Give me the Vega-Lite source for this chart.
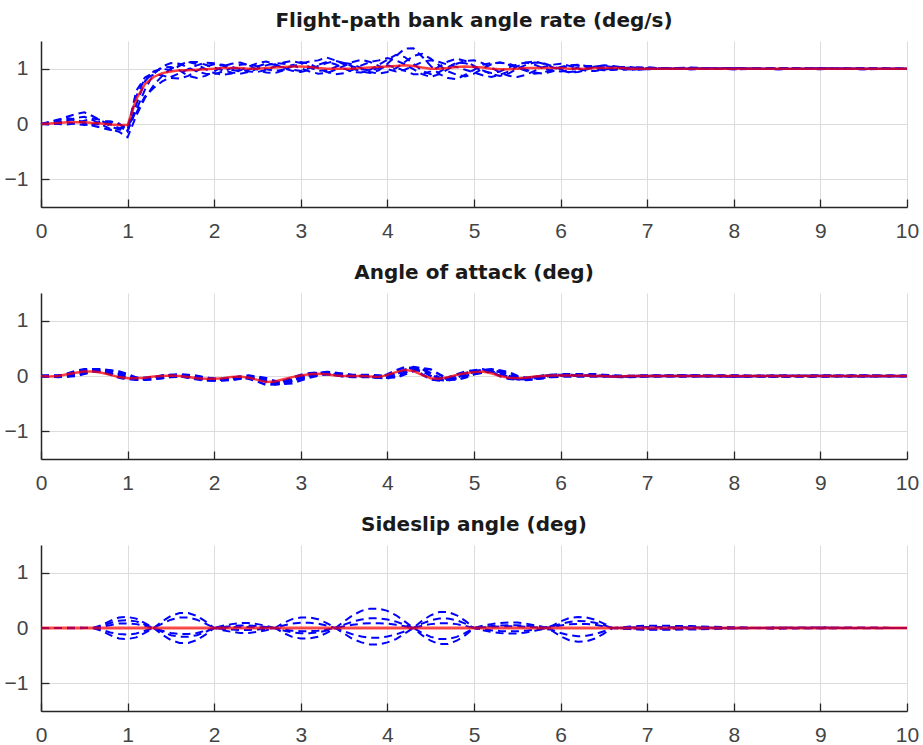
{
  "$schema": "https://vega.github.io/schema/vega-lite/v6.json",
  "background": "white",
  "padding": {"left": 4, "top": 11, "right": 4, "bottom": 4},
  "bounds": "flush",
  "spacing": 86,
  "config": {
    "view": {"stroke": null},
    "axis": {
      "domainColor": "#262626", "domainWidth": 1.5,
      "tickColor": "#262626", "tickWidth": 1.3, "tickSize": -8,
      "gridColor": "#dcdcdc", "gridWidth": 1,
      "labelFont": "Liberation Sans", "labelFontSize": 21, "labelColor": "#444444",
      "labelPadding": 21, "labelFlush": false
    },
    "title": {"font": "DejaVu Sans", "fontSize": 20, "fontWeight": "bold", "color": "#1a1a1a", "anchor": "middle", "offset": 10, "baseline": "alphabetic"}
  },
  "datasets": {
    "p1": [
      {"t":0,"r":0,"a":0,"b":0,"c":0,"d":0,"e":0,"f":0},
      {"t":0.1,"r":0.01,"a":0.03,"b":-0.01,"c":0.02,"d":0,"e":0.04,"f":0},
      {"t":0.2,"r":0.02,"a":0.07,"b":0.01,"c":0,"d":0.04,"e":0.08,"f":0.03},
      {"t":0.3,"r":0.03,"a":0.13,"b":0.06,"c":-0.01,"d":0.08,"e":0.11,"f":0.03},
      {"t":0.4,"r":0.03,"a":0.18,"b":0.11,"c":0.01,"d":0.07,"e":0.08,"f":0},
      {"t":0.5,"r":0.03,"a":0.21,"b":0.13,"c":0.06,"d":0.01,"e":0.03,"f":-0.02},
      {"t":0.6,"r":0.02,"a":0.14,"b":0.07,"c":0.1,"d":-0.03,"e":-0.01,"f":0},
      {"t":0.7,"r":0.01,"a":0.06,"b":-0.01,"c":0.07,"d":-0.07,"e":0,"f":0.05},
      {"t":0.8,"r":-0.01,"a":-0.04,"b":-0.09,"c":-0.01,"d":-0.11,"e":0.02,"f":0.05},
      {"t":0.9,"r":-0.02,"a":-0.1,"b":-0.14,"c":-0.07,"d":-0.08,"e":0,"f":0.01},
      {"t":1.0,"r":-0.02,"a":-0.12,"b":-0.24,"c":-0.1,"d":-0.04,"e":-0.07,"f":-0.14},
      {"t":1.1,"r":0.45,"a":0.25,"b":0.15,"c":0.6,"d":0.2,"e":0.5,"f":0.35},
      {"t":1.2,"r":0.72,"a":0.62,"b":0.47,"c":0.84,"d":0.5,"e":0.82,"f":0.77},
      {"t":1.3,"r":0.85,"a":0.9,"b":0.7,"c":0.93,"d":0.65,"e":0.89,"f":0.95},
      {"t":1.4,"r":0.92,"a":1.04,"b":0.87,"c":1.02,"d":0.77,"e":0.88,"f":1.0},
      {"t":1.5,"r":0.95,"a":1.1,"b":1.0,"c":1.03,"d":0.85,"e":0.83,"f":0.97},
      {"t":1.6,"r":0.97,"a":1.09,"b":1.07,"c":0.97,"d":0.92,"e":0.82,"f":1.05},
      {"t":1.7,"r":0.97,"a":1.02,"b":1.12,"c":0.87,"d":0.99,"e":0.87,"f":1.12},
      {"t":1.8,"r":0.98,"a":0.95,"b":1.12,"c":0.83,"d":1.06,"e":0.96,"f":1.08},
      {"t":1.9,"r":0.99,"a":0.91,"b":1.07,"c":0.87,"d":1.11,"e":1.04,"f":0.99},
      {"t":2.0,"r":1.0,"a":0.9,"b":1.02,"c":0.95,"d":1.1,"e":1.08,"f":0.92},
      {"t":2.1,"r":1.01,"a":0.95,"b":0.97,"c":1.04,"d":1.05,"e":1.07,"f":0.89},
      {"t":2.2,"r":1.01,"a":1.01,"b":0.93,"c":1.09,"d":0.98,"e":1.03,"f":0.91},
      {"t":2.3,"r":1.01,"a":1.07,"b":0.91,"c":1.11,"d":0.95,"e":0.99,"f":0.97},
      {"t":2.4,"r":1.0,"a":1.08,"b":0.94,"c":1.06,"d":0.98,"e":0.95,"f":1.04},
      {"t":2.5,"r":1.0,"a":1.04,"b":1.0,"c":0.98,"d":1.04,"e":0.94,"f":1.1},
      {"t":2.6,"r":1.01,"a":0.99,"b":1.06,"c":0.93,"d":1.09,"e":0.98,"f":1.13},
      {"t":2.7,"r":1.02,"a":0.96,"b":1.1,"c":0.92,"d":1.07,"e":1.04,"f":1.08},
      {"t":2.8,"r":1.03,"a":0.98,"b":1.09,"c":0.97,"d":1.02,"e":1.11,"f":1.01},
      {"t":2.9,"r":1.04,"a":1.04,"b":1.06,"c":1.06,"d":0.98,"e":1.14,"f":0.96},
      {"t":3.0,"r":1.04,"a":1.09,"b":1.01,"c":1.12,"d":0.96,"e":1.1,"f":0.94},
      {"t":3.1,"r":1.03,"a":1.13,"b":0.95,"c":1.09,"d":1.01,"e":1.03,"f":0.98},
      {"t":3.2,"r":1.01,"a":1.15,"b":0.91,"c":1.01,"d":1.07,"e":0.96,"f":1.05},
      {"t":3.3,"r":1.0,"a":1.2,"b":0.92,"c":0.94,"d":1.12,"e":0.97,"f":1.1},
      {"t":3.4,"r":1.0,"a":1.15,"b":0.98,"c":0.9,"d":1.08,"e":1.03,"f":1.14},
      {"t":3.5,"r":1.0,"a":1.08,"b":1.05,"c":0.92,"d":1.0,"e":1.1,"f":1.1},
      {"t":3.6,"r":1.0,"a":1.0,"b":1.12,"c":0.98,"d":0.94,"e":1.08,"f":1.04},
      {"t":3.7,"r":1.01,"a":0.95,"b":1.16,"c":1.06,"d":0.93,"e":1.01,"f":0.99},
      {"t":3.8,"r":1.02,"a":0.92,"b":1.12,"c":1.12,"d":0.98,"e":0.94,"f":0.97},
      {"t":3.9,"r":1.03,"a":0.97,"b":1.05,"c":1.15,"d":1.07,"e":0.91,"f":1.01},
      {"t":4.0,"r":1.04,"a":1.09,"b":0.99,"c":1.19,"d":1.16,"e":0.94,"f":1.06},
      {"t":4.1,"r":1.05,"a":1.23,"b":0.95,"c":1.15,"d":1.25,"e":1.01,"f":1.02},
      {"t":4.2,"r":1.06,"a":1.36,"b":0.98,"c":1.08,"d":1.21,"e":1.12,"f":0.96},
      {"t":4.3,"r":1.05,"a":1.37,"b":1.05,"c":0.99,"d":1.09,"e":1.23,"f":0.9},
      {"t":4.4,"r":1.02,"a":1.22,"b":1.12,"c":0.9,"d":0.96,"e":1.27,"f":0.9},
      {"t":4.5,"r":1.0,"a":1.05,"b":1.15,"c":0.85,"d":0.9,"e":1.18,"f":0.95},
      {"t":4.6,"r":1.0,"a":0.9,"b":1.12,"c":0.9,"d":0.94,"e":1.06,"f":1.04},
      {"t":4.7,"r":1.01,"a":0.83,"b":1.07,"c":0.99,"d":1.03,"e":0.95,"f":1.13},
      {"t":4.8,"r":1.03,"a":0.81,"b":1.03,"c":1.09,"d":1.11,"e":0.89,"f":1.18},
      {"t":4.9,"r":1.04,"a":0.89,"b":0.98,"c":1.14,"d":1.1,"e":0.86,"f":1.14},
      {"t":5.0,"r":1.03,"a":0.98,"b":0.93,"c":1.15,"d":1.03,"e":0.91,"f":1.05},
      {"t":5.1,"r":1.02,"a":1.07,"b":0.88,"c":1.1,"d":0.96,"e":1.0,"f":0.97},
      {"t":5.2,"r":1.0,"a":1.1,"b":0.85,"c":1.02,"d":0.92,"e":1.08,"f":0.9},
      {"t":5.3,"r":0.99,"a":1.11,"b":0.89,"c":0.93,"d":0.95,"e":1.11,"f":0.87},
      {"t":5.4,"r":0.99,"a":1.07,"b":0.95,"c":0.87,"d":1.02,"e":1.09,"f":0.91},
      {"t":5.5,"r":1.0,"a":1.02,"b":1.04,"c":0.85,"d":1.08,"e":1.04,"f":1.0},
      {"t":5.6,"r":1.01,"a":0.96,"b":1.11,"c":0.89,"d":1.11,"e":0.98,"f":1.07},
      {"t":5.7,"r":1.01,"a":0.91,"b":1.13,"c":0.96,"d":1.07,"e":0.93,"f":1.11},
      {"t":5.8,"r":1.01,"a":0.93,"b":1.09,"c":1.03,"d":1.01,"e":0.91,"f":1.1},
      {"t":5.9,"r":1.01,"a":0.98,"b":1.03,"c":1.07,"d":0.96,"e":0.95,"f":1.05},
      {"t":6.0,"r":1.01,"a":1.03,"b":0.97,"c":1.09,"d":0.95,"e":1.01,"f":0.99},
      {"t":6.1,"r":1.0,"a":1.06,"b":0.93,"c":1.05,"d":0.97,"e":1.05,"f":0.94},
      {"t":6.2,"r":1.0,"a":1.07,"b":0.94,"c":1.0,"d":1.02,"e":1.06,"f":0.95},
      {"t":6.3,"r":1.0,"a":1.05,"b":0.98,"c":0.96,"d":1.05,"e":1.03,"f":0.99},
      {"t":6.4,"r":1.01,"a":1.03,"b":1.04,"c":0.96,"d":1.05,"e":0.99,"f":1.04},
      {"t":6.5,"r":1.01,"a":0.99,"b":1.06,"c":0.98,"d":1.02,"e":0.97,"f":1.05},
      {"t":6.6,"r":1.01,"a":0.98,"b":1.05,"c":1.01,"d":0.99,"e":0.98,"f":1.03},
      {"t":6.7,"r":1.01,"a":0.99,"b":1.03,"c":1.03,"d":0.98,"e":1.01,"f":1.0},
      {"t":6.8,"r":1.0,"a":1.0,"b":0.99,"c":1.03,"d":0.99,"e":1.02,"f":0.98},
      {"t":6.9,"r":1.0,"a":1.02,"b":0.98,"c":1.01,"d":1.01,"e":1.02,"f":0.99},
      {"t":7.0,"r":1.0,"a":1.02,"b":0.99,"c":0.99,"d":1.02,"e":1.0,"f":1.01},
      {"t":7.5,"r":1.0,"a":0.99,"b":1.02,"c":1.0,"d":0.99,"e":1.01,"f":1.0},
      {"t":8.0,"r":1.0,"a":1.01,"b":0.99,"c":1.01,"d":1.0,"e":0.99,"f":1.01},
      {"t":8.5,"r":1.0,"a":1.0,"b":1.01,"c":0.99,"d":1.01,"e":1.0,"f":0.99},
      {"t":9.0,"r":1.0,"a":0.99,"b":1.0,"c":1.01,"d":1.0,"e":1.01,"f":1.0},
      {"t":9.5,"r":1.0,"a":1.01,"b":0.99,"c":1.0,"d":1.01,"e":0.99,"f":1.0},
      {"t":10,"r":1.0,"a":1.0,"b":1.0,"c":1.0,"d":1.0,"e":1.0,"f":1.0}
    ],
    "p2": [
      {"t":0,"r":0,"a":0,"b":0,"c":0,"d":0,"e":0},
      {"t":0.1,"r":-0.01,"a":0,"b":0,"c":-0.01,"d":-0.01,"e":0.01},
      {"t":0.2,"r":0,"a":-0.01,"b":0,"c":0,"d":-0.02,"e":0.01},
      {"t":0.3,"r":0.03,"a":0,"b":-0.01,"c":0.04,"d":-0.01,"e":0.02},
      {"t":0.4,"r":0.06,"a":0.04,"b":0,"c":0.09,"d":0.02,"e":0.06},
      {"t":0.5,"r":0.08,"a":0.08,"b":0.04,"c":0.12,"d":0.05,"e":0.1},
      {"t":0.6,"r":0.08,"a":0.11,"b":0.08,"c":0.12,"d":0.08,"e":0.12},
      {"t":0.7,"r":0.06,"a":0.11,"b":0.1,"c":0.09,"d":0.08,"e":0.12},
      {"t":0.8,"r":0.02,"a":0.08,"b":0.1,"c":0.03,"d":0.05,"e":0.1},
      {"t":0.9,"r":-0.02,"a":0.03,"b":0.08,"c":-0.03,"d":0,"e":0.05},
      {"t":1.0,"r":-0.04,"a":-0.03,"b":0.03,"c":-0.06,"d":-0.04,"e":0},
      {"t":1.1,"r":-0.04,"a":-0.06,"b":-0.03,"c":-0.06,"d":-0.07,"e":-0.03},
      {"t":1.2,"r":-0.03,"a":-0.06,"b":-0.05,"c":-0.05,"d":-0.07,"e":-0.03},
      {"t":1.3,"r":-0.01,"a":-0.04,"b":-0.05,"c":-0.02,"d":-0.06,"e":-0.02},
      {"t":1.4,"r":0,"a":-0.01,"b":-0.04,"c":0,"d":-0.03,"e":0.01},
      {"t":1.5,"r":0.01,"a":0,"b":-0.01,"c":0.02,"d":-0.02,"e":0.02},
      {"t":1.6,"r":0,"a":0.01,"b":0,"c":0,"d":-0.01,"e":0.03},
      {"t":1.7,"r":-0.02,"a":0,"b":0.01,"c":-0.03,"d":-0.02,"e":0.02},
      {"t":1.8,"r":-0.04,"a":-0.03,"b":0,"c":-0.06,"d":-0.04,"e":0},
      {"t":1.9,"r":-0.05,"a":-0.06,"b":-0.03,"c":-0.08,"d":-0.07,"e":-0.03},
      {"t":2.0,"r":-0.05,"a":-0.07,"b":-0.05,"c":-0.08,"d":-0.08,"e":-0.05},
      {"t":2.1,"r":-0.04,"a":-0.07,"b":-0.07,"c":-0.06,"d":-0.08,"e":-0.05},
      {"t":2.2,"r":-0.02,"a":-0.06,"b":-0.07,"c":-0.03,"d":-0.07,"e":-0.03},
      {"t":2.3,"r":-0.01,"a":-0.03,"b":-0.05,"c":-0.02,"d":-0.04,"e":-0.01},
      {"t":2.4,"r":-0.03,"a":-0.01,"b":-0.03,"c":-0.05,"d":-0.03,"e":0.01},
      {"t":2.5,"r":-0.07,"a":-0.04,"b":-0.01,"c":-0.1,"d":-0.06,"e":-0.02},
      {"t":2.6,"r":-0.11,"a":-0.1,"b":-0.04,"c":-0.16,"d":-0.1,"e":-0.07},
      {"t":2.7,"r":-0.1,"a":-0.15,"b":-0.09,"c":-0.15,"d":-0.15,"e":-0.12},
      {"t":2.8,"r":-0.06,"a":-0.14,"b":-0.14,"c":-0.09,"d":-0.14,"e":-0.11},
      {"t":2.9,"r":-0.02,"a":-0.08,"b":-0.13,"c":-0.03,"d":-0.09,"e":-0.06},
      {"t":3.0,"r":0.01,"a":-0.03,"b":-0.08,"c":0.02,"d":-0.04,"e":-0.01},
      {"t":3.1,"r":0.03,"a":0.01,"b":-0.03,"c":0.05,"d":-0.01,"e":0.03},
      {"t":3.2,"r":0.04,"a":0.04,"b":0.01,"c":0.06,"d":0.02,"e":0.06},
      {"t":3.3,"r":0.03,"a":0.06,"b":0.04,"c":0.05,"d":0.03,"e":0.07},
      {"t":3.4,"r":0.01,"a":0.04,"b":0.05,"c":0.02,"d":0.02,"e":0.06},
      {"t":3.5,"r":0,"a":0.01,"b":0.04,"c":0,"d":-0.01,"e":0.03},
      {"t":3.6,"r":0,"a":0,"b":0.01,"c":0,"d":-0.02,"e":0.02},
      {"t":3.7,"r":0,"a":0,"b":0,"c":0,"d":-0.02,"e":0.02},
      {"t":3.8,"r":-0.01,"a":0,"b":0,"c":-0.02,"d":-0.02,"e":0.02},
      {"t":3.9,"r":-0.02,"a":-0.01,"b":0,"c":-0.03,"d":-0.03,"e":0.01},
      {"t":4.0,"r":0.02,"a":-0.03,"b":-0.01,"c":0.03,"d":-0.04,"e":0},
      {"t":4.1,"r":0.07,"a":0.03,"b":-0.03,"c":0.1,"d":0,"e":0.05},
      {"t":4.2,"r":0.11,"a":0.1,"b":0.03,"c":0.16,"d":0.06,"e":0.11},
      {"t":4.3,"r":0.09,"a":0.15,"b":0.09,"c":0.14,"d":0.11,"e":0.16},
      {"t":4.4,"r":0.02,"a":0.13,"b":0.14,"c":0.03,"d":0.09,"e":0.14},
      {"t":4.5,"r":-0.04,"a":0.03,"b":0.12,"c":-0.06,"d":0,"e":0.05},
      {"t":4.6,"r":-0.05,"a":-0.06,"b":0.03,"c":-0.08,"d":-0.07,"e":-0.03},
      {"t":4.7,"r":-0.02,"a":-0.07,"b":-0.05,"c":-0.03,"d":-0.08,"e":-0.04},
      {"t":4.8,"r":0.02,"a":-0.03,"b":-0.07,"c":0.03,"d":-0.04,"e":0},
      {"t":4.9,"r":0.05,"a":0.03,"b":-0.03,"c":0.08,"d":0,"e":0.05},
      {"t":5.0,"r":0.07,"a":0.07,"b":0.03,"c":0.1,"d":0.04,"e":0.09},
      {"t":5.1,"r":0.08,"a":0.1,"b":0.07,"c":0.12,"d":0.06,"e":0.11},
      {"t":5.2,"r":0.05,"a":0.11,"b":0.09,"c":0.08,"d":0.08,"e":0.12},
      {"t":5.3,"r":0,"a":0.07,"b":0.1,"c":0,"d":0.04,"e":0.09},
      {"t":5.4,"r":-0.03,"a":0,"b":0.07,"c":-0.05,"d":-0.02,"e":0.02},
      {"t":5.5,"r":-0.04,"a":-0.04,"b":0,"c":-0.06,"d":-0.06,"e":-0.02},
      {"t":5.6,"r":-0.03,"a":-0.06,"b":-0.04,"c":-0.05,"d":-0.07,"e":-0.03},
      {"t":5.7,"r":-0.01,"a":-0.04,"b":-0.05,"c":-0.02,"d":-0.06,"e":-0.02},
      {"t":5.8,"r":0,"a":-0.01,"b":-0.04,"c":0,"d":-0.03,"e":0.01},
      {"t":5.9,"r":0.01,"a":0,"b":-0.01,"c":0.02,"d":-0.02,"e":0.02},
      {"t":6.0,"r":0.01,"a":0.01,"b":0,"c":0.02,"d":-0.01,"e":0.03},
      {"t":6.1,"r":0.01,"a":0.01,"b":0.01,"c":0.02,"d":-0.01,"e":0.03},
      {"t":6.2,"r":0.01,"a":0.01,"b":0.01,"c":0.01,"d":-0.01,"e":0.03},
      {"t":6.3,"r":0.01,"a":0.01,"b":0.01,"c":0.01,"d":-0.01,"e":0.03},
      {"t":6.4,"r":0,"a":0.01,"b":0.01,"c":0,"d":-0.01,"e":0.03},
      {"t":6.5,"r":0,"a":0,"b":0.01,"c":0,"d":-0.01,"e":0.02},
      {"t":6.6,"r":-0.01,"a":0,"b":0,"c":-0.01,"d":-0.01,"e":0.01},
      {"t":6.7,"r":-0.01,"a":-0.01,"b":0,"c":-0.01,"d":-0.02,"e":0},
      {"t":6.8,"r":0,"a":-0.01,"b":-0.01,"c":0,"d":-0.02,"e":0},
      {"t":6.9,"r":0,"a":0,"b":-0.01,"c":0,"d":-0.01,"e":0.01},
      {"t":7.0,"r":0,"a":0,"b":0,"c":0,"d":-0.01,"e":0.01},
      {"t":7.5,"r":0,"a":0.01,"b":-0.01,"c":0,"d":0,"e":0.01},
      {"t":8.0,"r":0,"a":0,"b":0.01,"c":-0.01,"d":-0.01,"e":0},
      {"t":8.5,"r":0,"a":-0.01,"b":0,"c":0.01,"d":0,"e":-0.01},
      {"t":9.0,"r":0,"a":0,"b":-0.01,"c":0,"d":0.01,"e":0},
      {"t":9.5,"r":0,"a":0.01,"b":0,"c":-0.01,"d":0,"e":0},
      {"t":10,"r":0,"a":0,"b":0,"c":0,"d":0,"e":0}
    ],
    "p3": [
      {"t":0,"r":0,"a":0,"b":0,"c":0,"d":0,"e":0},
      {"t":0.1,"r":0,"a":0,"b":0,"c":0,"d":0,"e":0},
      {"t":0.2,"r":0,"a":0,"b":0,"c":0,"d":0,"e":0},
      {"t":0.3,"r":0,"a":0.005,"b":0,"c":0,"d":-0.005,"e":0},
      {"t":0.4,"r":0,"a":0.005,"b":-0.005,"c":0,"d":0,"e":0},
      {"t":0.5,"r":0,"a":0,"b":0,"c":0.005,"d":0,"e":0},
      {"t":0.6,"r":0,"a":0,"b":0,"c":0,"d":0,"e":0},
      {"t":0.7,"r":0,"a":0.05,"b":-0.05,"c":0.035,"d":-0.03,"e":0.02},
      {"t":0.8,"r":0,"a":0.13,"b":-0.13,"c":0.09,"d":-0.08,"e":0.05},
      {"t":0.9,"r":0,"a":0.19,"b":-0.19,"c":0.13,"d":-0.11,"e":0.08},
      {"t":1.0,"r":0,"a":0.2,"b":-0.2,"c":0.14,"d":-0.12,"e":0.08},
      {"t":1.1,"r":0,"a":0.17,"b":-0.17,"c":0.12,"d":-0.1,"e":0.07},
      {"t":1.2,"r":0,"a":0.09,"b":-0.09,"c":0.06,"d":-0.05,"e":0.04},
      {"t":1.3,"r":0,"a":0,"b":0,"c":0,"d":0,"e":0},
      {"t":1.4,"r":0,"a":-0.12,"b":0.12,"c":0.08,"d":-0.07,"e":-0.05},
      {"t":1.5,"r":0,"a":-0.22,"b":0.22,"c":0.15,"d":-0.13,"e":-0.09},
      {"t":1.6,"r":0,"a":-0.27,"b":0.27,"c":0.19,"d":-0.16,"e":-0.11},
      {"t":1.7,"r":0,"a":-0.27,"b":0.27,"c":0.19,"d":-0.16,"e":-0.11},
      {"t":1.8,"r":0,"a":-0.22,"b":0.22,"c":0.15,"d":-0.13,"e":-0.09},
      {"t":1.9,"r":0,"a":-0.12,"b":0.12,"c":0.08,"d":-0.07,"e":-0.05},
      {"t":2.0,"r":0,"a":0,"b":0,"c":0,"d":0,"e":0},
      {"t":2.1,"r":0,"a":0.02,"b":-0.04,"c":0.04,"d":-0.016,"e":0.008},
      {"t":2.2,"r":0,"a":0.035,"b":-0.07,"c":0.07,"d":-0.028,"e":0.014},
      {"t":2.3,"r":0,"a":0.045,"b":-0.09,"c":0.09,"d":-0.036,"e":0.018},
      {"t":2.4,"r":0,"a":0.045,"b":-0.09,"c":0.09,"d":-0.036,"e":0.018},
      {"t":2.5,"r":0,"a":0.035,"b":-0.07,"c":0.07,"d":-0.028,"e":0.014},
      {"t":2.6,"r":0,"a":0.02,"b":-0.04,"c":0.04,"d":-0.016,"e":0.008},
      {"t":2.7,"r":0,"a":0,"b":0,"c":0,"d":0,"e":0},
      {"t":2.8,"r":0,"a":0.09,"b":-0.09,"c":0.045,"d":-0.045,"e":-0.027},
      {"t":2.9,"r":0,"a":0.16,"b":-0.16,"c":0.08,"d":-0.08,"e":-0.048},
      {"t":3.0,"r":0,"a":0.19,"b":-0.19,"c":0.095,"d":-0.095,"e":-0.057},
      {"t":3.1,"r":0,"a":0.19,"b":-0.19,"c":0.095,"d":-0.095,"e":-0.057},
      {"t":3.2,"r":0,"a":0.16,"b":-0.16,"c":0.08,"d":-0.08,"e":-0.048},
      {"t":3.3,"r":0,"a":0.09,"b":-0.09,"c":0.045,"d":-0.045,"e":-0.027},
      {"t":3.4,"r":0,"a":0,"b":0,"c":0,"d":0,"e":0},
      {"t":3.5,"r":0,"a":0.12,"b":-0.1,"c":0.06,"d":-0.06,"e":0.03},
      {"t":3.6,"r":0,"a":0.23,"b":-0.2,"c":0.115,"d":-0.115,"e":0.058},
      {"t":3.7,"r":0,"a":0.31,"b":-0.26,"c":0.155,"d":-0.155,"e":0.078},
      {"t":3.8,"r":0,"a":0.35,"b":-0.3,"c":0.175,"d":-0.175,"e":0.088},
      {"t":3.9,"r":0,"a":0.35,"b":-0.3,"c":0.175,"d":-0.175,"e":0.088},
      {"t":4.0,"r":0,"a":0.31,"b":-0.26,"c":0.155,"d":-0.155,"e":0.078},
      {"t":4.1,"r":0,"a":0.23,"b":-0.2,"c":0.115,"d":-0.115,"e":0.058},
      {"t":4.2,"r":0,"a":0.12,"b":-0.1,"c":0.06,"d":-0.06,"e":0.03},
      {"t":4.3,"r":0,"a":0,"b":0,"c":0,"d":0,"e":0},
      {"t":4.4,"r":0,"a":-0.09,"b":0.13,"c":-0.13,"d":0.08,"e":0.04},
      {"t":4.5,"r":0,"a":-0.16,"b":0.23,"c":-0.23,"d":0.14,"e":0.07},
      {"t":4.6,"r":0,"a":-0.2,"b":0.29,"c":-0.29,"d":0.17,"e":0.087},
      {"t":4.7,"r":0,"a":-0.2,"b":0.29,"c":-0.29,"d":0.17,"e":0.087},
      {"t":4.8,"r":0,"a":-0.16,"b":0.23,"c":-0.23,"d":0.14,"e":0.07},
      {"t":4.9,"r":0,"a":-0.09,"b":0.13,"c":-0.13,"d":0.08,"e":0.04},
      {"t":5.0,"r":0,"a":0,"b":0,"c":0,"d":0,"e":0},
      {"t":5.1,"r":0,"a":0.04,"b":-0.024,"c":0.02,"d":-0.04,"e":0.012},
      {"t":5.2,"r":0,"a":0.07,"b":-0.042,"c":0.035,"d":-0.07,"e":0.021},
      {"t":5.3,"r":0,"a":0.09,"b":-0.054,"c":0.045,"d":-0.09,"e":0.027},
      {"t":5.4,"r":0,"a":0.1,"b":-0.06,"c":0.05,"d":-0.1,"e":0.03},
      {"t":5.5,"r":0,"a":0.1,"b":-0.06,"c":0.05,"d":-0.1,"e":0.03},
      {"t":5.6,"r":0,"a":0.08,"b":-0.048,"c":0.04,"d":-0.08,"e":0.024},
      {"t":5.7,"r":0,"a":0.05,"b":-0.03,"c":0.025,"d":-0.05,"e":0.015},
      {"t":5.8,"r":0,"a":0.02,"b":-0.012,"c":0.01,"d":-0.02,"e":0.006},
      {"t":5.9,"r":0,"a":-0.05,"b":0.04,"c":0.025,"d":-0.03,"e":0.015},
      {"t":6.0,"r":0,"a":-0.15,"b":0.12,"c":0.075,"d":-0.09,"e":0.045},
      {"t":6.1,"r":0,"a":-0.22,"b":0.18,"c":0.11,"d":-0.13,"e":0.066},
      {"t":6.2,"r":0,"a":-0.25,"b":0.2,"c":0.125,"d":-0.15,"e":0.075},
      {"t":6.3,"r":0,"a":-0.24,"b":0.19,"c":0.12,"d":-0.14,"e":0.072},
      {"t":6.4,"r":0,"a":-0.19,"b":0.15,"c":0.095,"d":-0.11,"e":0.057},
      {"t":6.5,"r":0,"a":-0.1,"b":0.08,"c":0.05,"d":-0.06,"e":0.03},
      {"t":6.6,"r":0,"a":0,"b":0,"c":0,"d":0,"e":0},
      {"t":6.7,"r":0,"a":0.013,"b":-0.01,"c":0.005,"d":-0.007,"e":-0.004},
      {"t":6.8,"r":0,"a":0.025,"b":-0.02,"c":0.01,"d":-0.013,"e":-0.008},
      {"t":6.9,"r":0,"a":0.035,"b":-0.028,"c":0.014,"d":-0.018,"e":-0.01},
      {"t":7.0,"r":0,"a":0.043,"b":-0.034,"c":0.017,"d":-0.022,"e":-0.013},
      {"t":7.5,"r":0,"a":0.035,"b":-0.028,"c":0.014,"d":-0.018,"e":-0.01},
      {"t":8.0,"r":0,"a":0.01,"b":-0.01,"c":-0.005,"d":0.008,"e":0.005},
      {"t":8.5,"r":0,"a":-0.01,"b":0.01,"c":0.005,"d":-0.008,"e":0},
      {"t":9.0,"r":0,"a":0.01,"b":-0.005,"c":0.01,"d":0,"e":-0.005},
      {"t":9.5,"r":0,"a":0,"b":0.005,"c":-0.005,"d":0.005,"e":0},
      {"t":10,"r":0,"a":0,"b":0,"c":0,"d":0,"e":0}
    ]
  },
  "vconcat": [
    {
      "width": 866, "height": 166,
      "title": "Flight-path bank angle rate (deg/s)",
      "data": {"name": "p1"},
      "encoding": {
        "x": {"field": "t", "type": "quantitative", "scale": {"domain": [0, 10], "nice": false}, "axis": {"title": null, "values": [0,1,2,3,4,5,6,7,8,9,10]}}
      },
      "layer": [
        {
          "transform": [{"fold": ["a","b","c","d","e","f"], "as": ["run","v"]}],
          "mark": {"type": "line", "color": "#0000ff", "strokeWidth": 2, "strokeDash": [8,5]},
          "encoding": {
            "y": {"field": "v", "type": "quantitative", "scale": {"domain": [-1.5, 1.5], "nice": false}, "axis": {"title": null, "values": [-1,0,1]}},
            "detail": {"field": "run"}
          }
        },
        {
          "mark": {"type": "line", "color": "#ff0000", "strokeWidth": 2.5, "opacity": 0.75},
          "encoding": {"y": {"field": "r", "type": "quantitative", "axis": {"title": null, "values": [-1,0,1]}}}
        }
      ]
    },
    {
      "width": 866, "height": 166,
      "title": "Angle of attack (deg)",
      "data": {"name": "p2"},
      "encoding": {
        "x": {"field": "t", "type": "quantitative", "scale": {"domain": [0, 10], "nice": false}, "axis": {"title": null, "values": [0,1,2,3,4,5,6,7,8,9,10]}}
      },
      "layer": [
        {
          "transform": [{"fold": ["a","b","c","d","e"], "as": ["run","v"]}],
          "mark": {"type": "line", "color": "#0000ff", "strokeWidth": 2.5, "strokeDash": [8,5]},
          "encoding": {
            "y": {"field": "v", "type": "quantitative", "scale": {"domain": [-1.5, 1.5], "nice": false}, "axis": {"title": null, "values": [-1,0,1]}},
            "detail": {"field": "run"}
          }
        },
        {
          "mark": {"type": "line", "color": "#ff0000", "strokeWidth": 2.5, "opacity": 0.75},
          "encoding": {"y": {"field": "r", "type": "quantitative", "axis": {"title": null, "values": [-1,0,1]}}}
        }
      ]
    },
    {
      "width": 866, "height": 166,
      "title": "Sideslip angle (deg)",
      "data": {"name": "p3"},
      "encoding": {
        "x": {"field": "t", "type": "quantitative", "scale": {"domain": [0, 10], "nice": false}, "axis": {"title": null, "values": [0,1,2,3,4,5,6,7,8,9,10]}}
      },
      "layer": [
        {
          "transform": [{"fold": ["a","b","c","d","e"], "as": ["run","v"]}],
          "mark": {"type": "line", "color": "#0000ff", "strokeWidth": 2, "strokeDash": [8,5]},
          "encoding": {
            "y": {"field": "v", "type": "quantitative", "scale": {"domain": [-1.5, 1.5], "nice": false}, "axis": {"title": null, "values": [-1,0,1]}},
            "detail": {"field": "run"}
          }
        },
        {
          "mark": {"type": "line", "color": "#ff0000", "strokeWidth": 3, "opacity": 0.7},
          "encoding": {"y": {"field": "r", "type": "quantitative", "axis": {"title": null, "values": [-1,0,1]}}}
        }
      ]
    }
  ]
}
